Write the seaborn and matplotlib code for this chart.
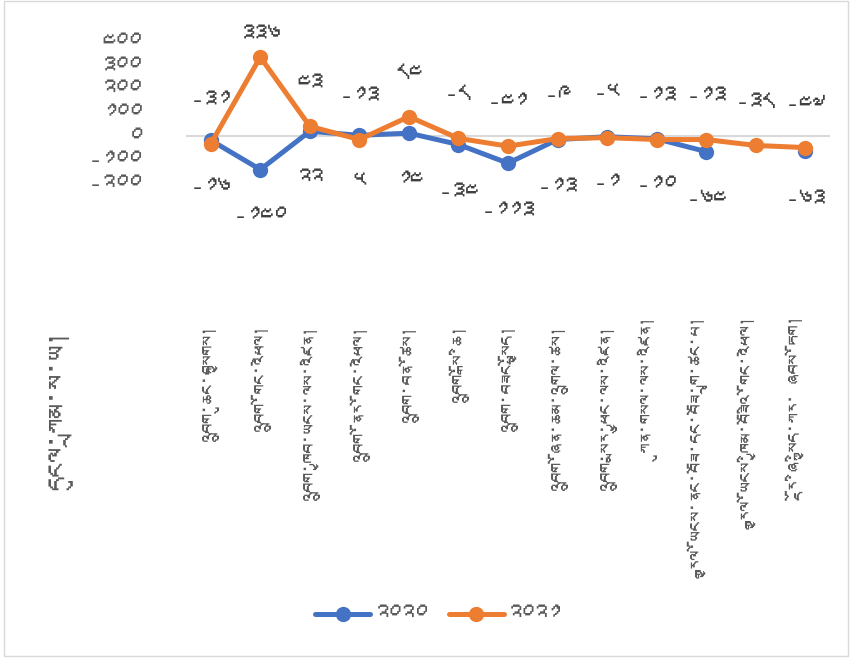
import matplotlib
matplotlib.use("Agg")
import numpy as np
import pandas as pd
import seaborn as sns
import matplotlib.pyplot as plt
from matplotlib import font_manager
from matplotlib.patches import Rectangle

# Data
categories = [
    "འབྲུག་ཆུང་བསྐྱགས།",
    "འབྲུག་གོང་འཕེལ།",
    "འབྲུག་ཁྱབ་ཡངས་ལས་འཛིན།",
    "འབྲུག་ནོར་གོང་འཕེལ།",
    "འབྲུག་བན་ཚོས།",
    "འབྲུག་སྒོ་ཆི།",
    "འབྲུག་བཟང་སྤྱོད།",
    "འབྲུག་ཞོན་ཆམ་འགྲུལ་ཚས།",
    "འབྲུག་སྨར་ཕྱུང་ལས་འཛིན།",
    "ཀུན་གསལ་ལས་འཛིན།",
    "རྒྱལ་ཡོངས་ནང་བཟོ་དང་བཟོ་གྲྭ་ཚང་པ།",
    "རྒྱལ་ཡོངས་ཁྱིམ་བཟོའི་གོང་འཕེལ།",
    "རྡོ་ཞི་སྐྱིད་ཀར་ ཞབས་ཏོག།",
]
years = ["༢༠༢༠", "༢༠༢༡"]
values_2020 = [-16, -140, 22, 5, 14, -34, -113, -13, -1, -10, -64, np.nan, -63]
values_2021 = [-31, 336, 43, -13, 84, -8, -41, -9, -5, -13, -13, -38, -47]
y_ticks = [-200, -100, 0, 100, 200, 300, 400]
y_title = "དངུལ་ཀྲམ་ས་ཡ།"

tib = str.maketrans("0123456789", "༠༡༢༣༤༥༦༧༨༩")

def to_tib(v):
    return str(int(v)).translate(tib)

# look for a font that has Tibetan glyphs
fams = []
try:
    from fontTools.ttLib import TTFont
    for f in font_manager.fontManager.ttflist:
        try:
            if 0x0F40 in TTFont(f.fname, fontNumber=0, lazy=True).getBestCmap():
                fams.append(f.name)
                break
        except Exception:
            pass
except Exception:
    pass

sns.set_style("white")
plt.rcParams["font.family"] = fams + ["DejaVu Sans"]

rows = []
for year, vals in zip(years, [values_2020, values_2021]):
    seg = 0
    for i, v in enumerate(vals):
        if pd.isna(v):
            seg += 1
            continue
        rows.append({"pos": i, "value": v, "year": year, "seg": seg})
df = pd.DataFrame(rows)

colors = {years[0]: "#4472C4", years[1]: "#ED7D31"}

fig = plt.figure(figsize=(8.58, 6.64), dpi=100)
ax = fig.add_axes([186 / 858, 1 - 320 / 664, (830 - 186) / 858, (320 - 42) / 664])

ax.axhline(0, color="#D9D9D9", lw=1.5, zorder=0)

sns.lineplot(data=df, x="pos", y="value", hue="year", units="seg",
             estimator=None, palette=colors, marker="o", markersize=11,
             markeredgewidth=0, linewidth=3.6, sort=False, ax=ax)

# data labels
for i, v in enumerate(values_2021):
    y = min(v + 180, 430)
    ax.text(i, y, to_tib(v), ha="center", va="center", fontsize=19, color="#404040")
for i, v in enumerate(values_2020):
    if pd.isna(v):
        continue
    ax.text(i, v - 205, to_tib(v), ha="center", va="center", fontsize=19, color="#404040")

ax.set_xlim(-0.5, len(categories) - 0.5)
ax.set_ylim(-777, 400)
ax.set_yticks(y_ticks)
ax.set_yticklabels([to_tib(t) for t in y_ticks], fontsize=19, color="#595959")
ax.set_xticks(range(len(categories)))
ax.set_xticklabels(categories, rotation=90, va="top", ha="center",
                   fontsize=14, color="#595959")
ax.tick_params(axis="y", length=0, pad=32)
ax.tick_params(axis="x", length=0, pad=3)
ax.set_xlabel("")
ax.set_ylabel("")
sns.despine(ax=ax, left=True, bottom=True)

handles, labels = ax.get_legend_handles_labels()
ax.get_legend().remove()
fig.legend(handles, labels, loc="center", bbox_to_anchor=(438 / 858, 1 - 615 / 664),
           ncol=2, frameon=False, fontsize=19, handlelength=2.1,
           handletextpad=0.15, columnspacing=0.8, labelcolor="#595959")

fig.text(60 / 858, 1 - 410 / 664, y_title, rotation=90, ha="center", va="center",
         fontsize=21, color="#595959")

fig.patches.append(Rectangle((4 / 858, 8 / 664), 844 / 858, 655 / 664,
                             transform=fig.transFigure, fill=False,
                             edgecolor="#D9D9D9", lw=1))

plt.savefig("out.png", dpi=100)
